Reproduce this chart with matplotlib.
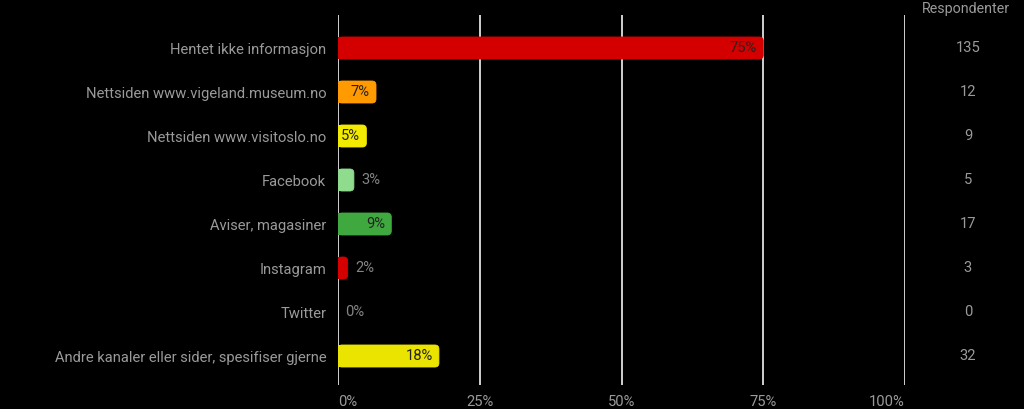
import matplotlib
matplotlib.use('Agg')
import matplotlib.pyplot as plt
from matplotlib.patches import FancyBboxPatch, Rectangle
import matplotlib.transforms as mtransforms

# data
categories = ['Hentet ikke informasjon', 'Nettsiden www.vigeland.museum.no',
              'Nettsiden www.visitoslo.no', 'Facebook', 'Aviser, magasiner',
              'Instagram', 'Twitter', 'Andre kanaler eller sider, spesifiser gjerne']
percent = [75, 6.7, 5, 2.8, 9.4, 1.7, 0, 17.8]
pct_labels = ['75%', '7%', '5%', '3%', '9%', '2%', '0%', '18%']
respondents = [135, 12, 9, 5, 17, 3, 0, 32]
colors = ['#d40000', '#ff9a00', '#f2ea00', '#8fdc8f', '#3fa83f', '#d40000', '#cccccc', '#ebe300']
xticks = [0, 25, 50, 75, 100]
xtick_labels = ['0%', '25%', '50%', '75%', '100%']

plt.rcParams['font.family'] = ['Roboto', 'DejaVu Sans']
grey = '#9a9a9a'
fs = 10.6

fig = plt.figure(figsize=(10.24, 4.09), dpi=100, facecolor='black')
W, H = 1024, 409
ax = fig.add_axes([338 / W, 1 - 385 / H, (905 - 338) / W, (385 - 15) / H])
ax.set_facecolor('black')
ax.set_xlim(0, 100)
ax.set_ylim(7 + 29 / 44, -33 / 44)

for x in xticks:
    ax.axvline(x, color='#d0d0d0', lw=1.4, zorder=1)

px_x = 100 / 567
px_y = 1 / 44
r = 4 * px_x
bh = 22 * px_y
for i, (p, c) in enumerate(zip(percent, colors)):
    if p <= 0:
        continue
    box = FancyBboxPatch((0, i - bh / 2), p, bh,
                         boxstyle='round,pad=0,rounding_size=%f' % min(r, p),
                         mutation_aspect=px_y / px_x,
                         fc=c, ec=c, lw=0.6, zorder=3)
    ax.add_patch(box)
    ax.add_patch(Rectangle((0, i - bh / 2), min(p / 2, r), bh, fc=c, ec='none', zorder=3))

for i, (p, lab) in enumerate(zip(percent, pct_labels)):
    if p >= 4.5:
        ax.text(p - 1.1, i, lab, ha='right', va='center', fontsize=fs,
                color='#222222', zorder=4)
    else:
        ax.text(p + 1.3, i, lab, ha='left', va='center', fontsize=fs,
                color='#858585', zorder=4)

ax.set_yticks(range(len(categories)))
ax.set_yticklabels(categories, fontsize=fs, color=grey)
ax.tick_params(axis='y', length=0, pad=8.5)
ax.set_xticks(xticks)
ax.set_xticklabels(xtick_labels, fontsize=fs, color=grey)
ax.tick_params(axis='x', length=0, pad=7)
xl = ax.get_xticklabels()
xl[0].set_ha('left')
xl[-1].set_ha('right')
for s in ax.spines.values():
    s.set_visible(False)

trans = mtransforms.blended_transform_factory(fig.transFigure, ax.transData)
for i, n in enumerate(respondents):
    ax.text(968 / W, i, str(n), transform=trans, ha='center', va='center',
            fontsize=fs, color=grey)
fig.text(966 / W, 1 - 9 / H, 'Respondenter', ha='center', va='center',
         fontsize=10.3, color=grey)

fig.savefig('out.png', dpi=100, facecolor='black')
